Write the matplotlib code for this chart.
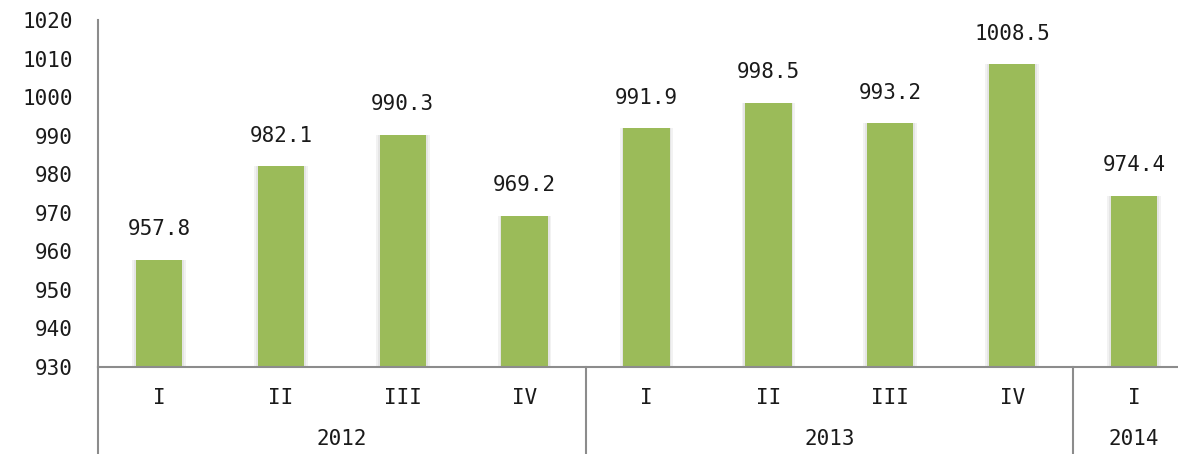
import numpy as np
import matplotlib.pyplot as plt
from matplotlib import transforms

years = ['2012', '2013', '2014']
year_sizes = [4, 4, 1]
quarters = ['I', 'II', 'III', 'IV', 'I', 'II', 'III', 'IV', 'I']
values = [957.8, 982.1, 990.3, 969.2, 991.9, 998.5, 993.2, 1008.5, 974.4]
yticks = list(range(930, 1021, 10))

font = 'DejaVu Sans Mono'
green = '#9bbb59'
axcol = '#8c8c8c'

fig = plt.figure(figsize=(11.78, 4.54), dpi=100)
ax = fig.add_axes([98/1178, 87/454, (1195-98)/1178, 347/454])

x = np.arange(len(values))
# soft glow behind bars
ax.bar(x, np.array(values) - 930, width=0.44, bottom=930, color='#000000', alpha=0.05, zorder=1)
ax.bar(x, np.array(values) - 930, width=0.41, bottom=930, color='#000000', alpha=0.05, zorder=1)
ax.bar(x, np.array(values) - 930, width=0.38, bottom=930, color=green, zorder=2)

for xi, v in zip(x, values):
    ax.annotate(f'{v:.1f}', (xi, v), xytext=(0, 22), textcoords='offset points',
                ha='center', va='center', fontsize=15, family=font, color='#1a1a1a')

ax.set_xlim(-0.5, len(values) - 0.5)
ax.set_ylim(930, 1020)
ax.set_yticks(yticks)
ax.set_yticklabels([str(t) for t in yticks], family=font, fontsize=15, color='#1a1a1a')
ax.tick_params(axis='y', length=0, pad=18)
ax.set_xticks([])

for s in ['top', 'right']:
    ax.spines[s].set_visible(False)
ax.spines['left'].set_color(axcol)
ax.spines['bottom'].set_color(axcol)
ax.spines['left'].set_linewidth(1.5)
ax.spines['bottom'].set_linewidth(1.5)

trans = transforms.blended_transform_factory(ax.transData, ax.transAxes)

# quarter labels
for xi, q in zip(x, quarters):
    ax.text(xi, -0.089, q, transform=trans, ha='center', va='center',
            fontsize=15, family=font, color='#1a1a1a')

# year labels and separators
start = 0
bounds = [-0.5]
for yr, n in zip(years, year_sizes):
    center = start + (n - 1) / 2
    ax.text(center, -0.208, yr, transform=trans, ha='center', va='center',
            fontsize=15, family=font, color='#1a1a1a', clip_on=False)
    start += n
    bounds.append(start - 0.5)

for b in bounds[:-1]:
    ax.plot([b, b], [0, -0.3], transform=trans, color=axcol, lw=1.5, clip_on=False)

plt.savefig('out.png', dpi=100)
